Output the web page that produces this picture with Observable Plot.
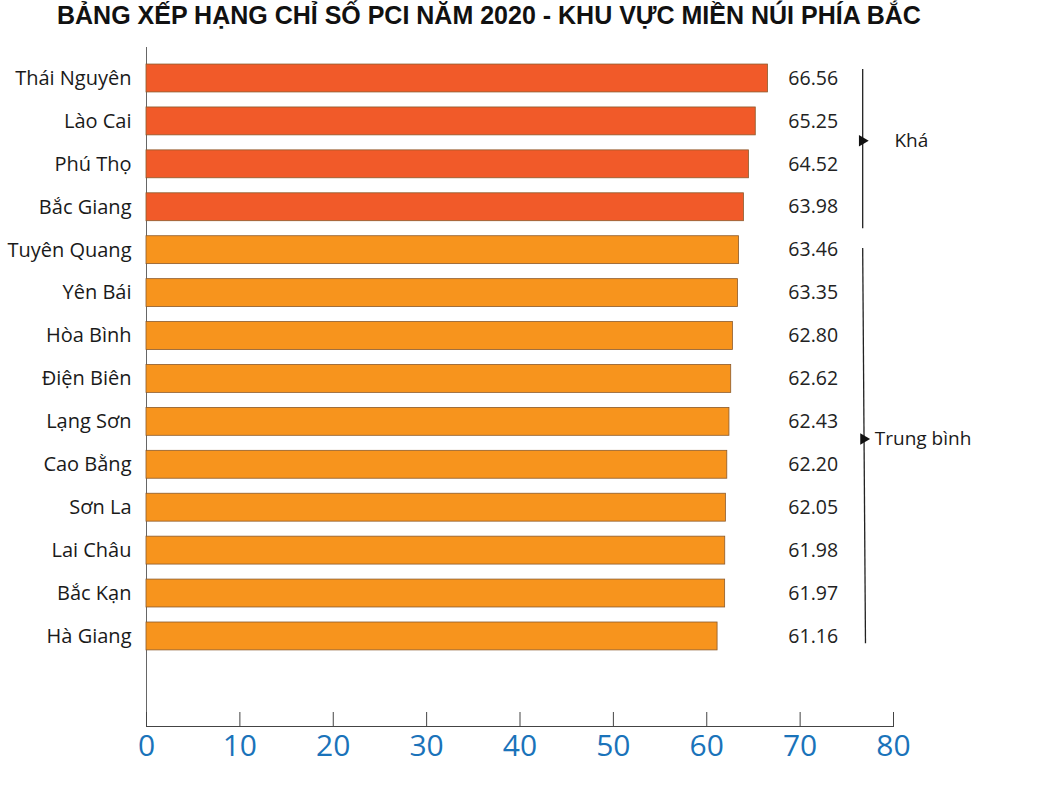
<!DOCTYPE html>
<html><head><meta charset="utf-8">
<script src="https://cdn.jsdelivr.net/npm/d3@7"></script>
<script src="https://cdn.jsdelivr.net/npm/@observablehq/plot@0.6"></script>
<style>
body{margin:0;background:#fff;}
#title{height:40px;padding-left:57px;font-family:"Liberation Sans Narrow","Arial Narrow",sans-serif;font-weight:bold;font-size:25px;line-height:30px;color:#111;white-space:nowrap;}
</style></head>
<body>
<div id="title">BẢNG XẾP HẠNG CHỈ SỐ PCI NĂM 2020 - KHU VỰC MIỀN NÚI PHÍA BẮC</div>
<div id="chart"></div>
<script>
const provinces = ["Thái Nguyên","Lào Cai","Phú Thọ","Bắc Giang","Tuyên Quang","Yên Bái","Hòa Bình","Điện Biên","Lạng Sơn","Cao Bằng","Sơn La","Lai Châu","Bắc Kạn","Hà Giang"];
const scores = [66.56,65.25,64.52,63.98,63.46,63.35,62.80,62.62,62.43,62.20,62.05,61.98,61.97,61.16];
const groups = ["Khá","Khá","Khá","Khá","Trung bình","Trung bình","Trung bình","Trung bình","Trung bình","Trung bình","Trung bình","Trung bình","Trung bình","Trung bình"];
const xTicks = [0,10,20,30,40,50,60,70,80];
const groupNames = ["Khá","Trung bình"];
const groupColors = ["#f15a29","#f7941d"];
// bracket extents, in row units (row index of provinces)
const bracketTop = [-0.22, 3.95];
const bracketBottom = [3.49, 13.16];
const bracketMid = [1.45, 8.4];
const bracketXTop = [76.7, 76.7];
const bracketXBottom = [76.7, 77.0];
const bracketLabelX = [80.1, 78.0];
const valueLabelX = 71.4;

const data = provinces.map((p,i)=>({i, province:p, score:scores[i], group:groups[i]}));
const brackets = groupNames.map((g,k)=>({group:g, top:bracketTop[k], bottom:bracketBottom[k], mid:bracketMid[k], xt:bracketXTop[k], xb:bracketXBottom[k], lx:bracketLabelX[k]}));
const font = "'Open Sans', sans-serif";
const half = 0.325;

const chart = Plot.plot({
  width:1042, height:759,
  marginLeft:146, marginRight:149, marginTop:7, marginBottom:73,
  style:{fontFamily:font, background:"#fff"},
  x:{domain:[0,80], ticks:xTicks, label:null},
  y:{domain:[-0.722, 15.098], reverse:true, label:null},
  color:{domain:groupNames, range:groupColors},
  marks:[
    Plot.ruleX([0],{stroke:"#666", strokeWidth:1}),
    Plot.rectX(data,{y1:d=>d.i-half, y2:d=>d.i+half, x1:0, x2:"score", fill:"group", stroke:"#8b5a2b", strokeWidth:0.8}),
    Plot.text(data,{y:"i", x:valueLabelX, text:d=>d.score.toFixed(2), fontSize:19.5, fill:"#222"}),
    Plot.link(brackets,{x1:"xt", x2:"xb", y1:"top", y2:"bottom", stroke:"#222", strokeWidth:1.3}),
    Plot.dot(brackets,{x:d=>d.xt+(d.xb-d.xt)*(d.mid-d.top)/(d.bottom-d.top), y:"mid", symbol:"triangle", rotate:90, r:4.2, fill:"#111", stroke:null, dx:-0.5}),
    Plot.text(brackets,{x:"lx", y:"mid", text:"group", textAnchor:"start", fontSize:19, fill:"#1a1a1a"}),
    Plot.axisY({ticks:provinces.map((p,i)=>i), tickFormat:i=>provinces[i], tickSize:0, tickPadding:15, fontSize:20, fill:"#1a1a1a"}),
    Plot.axisX({ticks:xTicks, tickSize:-14, tickPadding:22, fontSize:30, fill:"#1a73ba", stroke:"#444", tickFormat:d=>String(d)}),
    Plot.frame({anchor:"bottom", stroke:"#444"})
  ]
});
document.getElementById("chart").appendChild(chart);
</script>
</body></html>
